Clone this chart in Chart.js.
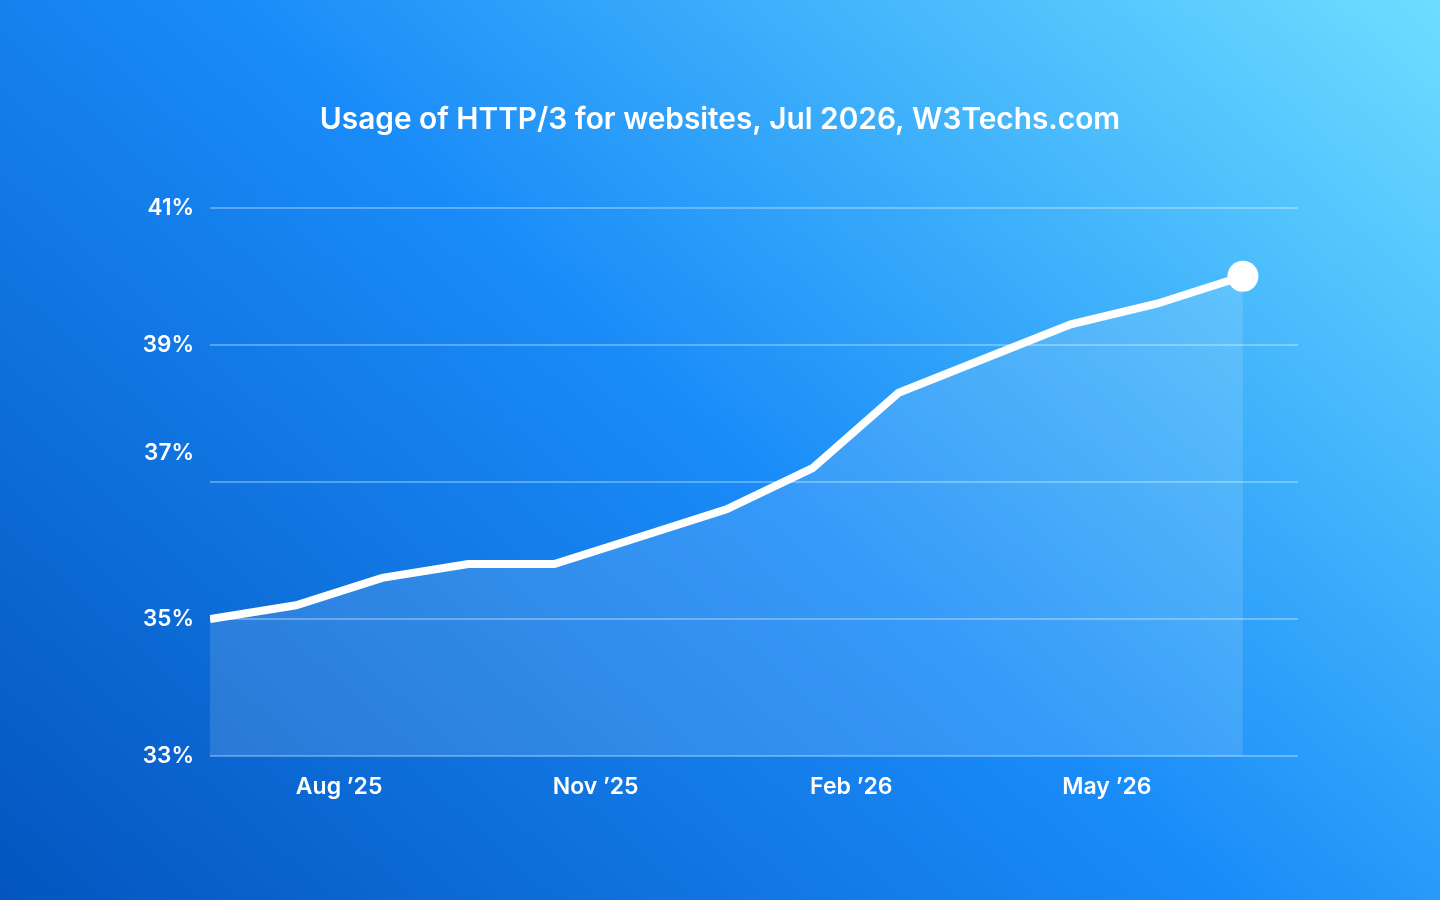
<!DOCTYPE html>
<html>
<head>
<meta charset="utf-8">
<title>Usage of HTTP/3 for websites</title>
<script src="https://cdn.jsdelivr.net/npm/chart.js@4.4.1/dist/chart.umd.min.js"></script>
<style>
  html, body { margin: 0; padding: 0; width: 1440px; height: 900px; overflow: hidden; }
  body { background: linear-gradient(42deg, #0455bf 0%, #198bf8 50%, #6ddeff 100%); }
  #wrap { width: 1440px; height: 900px; }
</style>
</head>
<body>
<div id="wrap"><canvas id="chart" width="1440" height="900"></canvas></div>
<script>
// monthly samples, Jul 2025 .. Jul 2026
const months = [0, 1, 2, 3, 4, 5, 6, 7, 8, 9, 10, 11, 12];
const usage = [35.0, 35.2, 35.6, 35.8, 35.8, 36.2, 36.6, 37.2, 38.3, 38.8, 39.3, 39.6, 40.0];

const xTickAt = [1.5, 4.48, 7.45, 10.42];
const xTickLabels = ['Aug ’25', 'Nov ’25', 'Feb ’26', 'May ’26'];

const yGridAt = [33, 35, 37, 39, 41];
const yLabelAt = [33, 35, 37.42, 39, 41];
const yTickLabels = ['33%', '35%', '37%', '39%', '41%'];

const font = 'Inter';

const ctx = document.getElementById('chart').getContext('2d');
new Chart(ctx, {
  type: 'line',
  data: {
    datasets: [{
      data: months.map((m, i) => ({ x: m, y: usage[i] })),
      borderColor: '#ffffff',
      borderWidth: 8,
      backgroundColor: 'rgba(255, 255, 255, 0.13)',
      fill: 'start',
      tension: 0,
      pointRadius: (c) => (c.dataIndex === usage.length - 1 ? 15.5 : 0),
      pointHoverRadius: 0,
      pointBackgroundColor: '#ffffff',
      pointBorderWidth: 0,
    }],
  },
  options: {
    responsive: false,
    animation: false,
    devicePixelRatio: 1,
    layout: { padding: 0 },
    plugins: {
      legend: { display: false },
      tooltip: { enabled: false },
      title: {
        display: true,
        text: 'Usage of HTTP/3 for websites, Jul 2026, W3Techs.com',
        color: '#ffffff',
        font: { family: font, size: 29.8, weight: '600', lineHeight: 1.2 },
        padding: { top: 102, bottom: 70 },
      },
    },
    scales: {
      x: {
        type: 'linear',
        min: 0,
        max: 12.64,
        grid: { display: false, drawTicks: false },
        border: { display: false },
        afterBuildTicks: (s) => { s.ticks = xTickAt.map((v) => ({ value: v })); },
        afterFit: (s) => { s.height = 144; },
        ticks: {
          callback: (v, i) => xTickLabels[i],
          color: '#ffffff',
          font: { family: font, size: 23, weight: '600' },
          padding: 17,
          maxRotation: 0,
          autoSkip: false,
        },
      },
      y: {
        min: 33,
        max: 41,
        position: 'left',
        afterBuildTicks: (s) => { s.ticks = yGridAt.map((v) => ({ value: v })); },
        afterFit: (s) => { s.width = 0; },
        grid: { color: 'rgba(255, 255, 255, 0.3)', lineWidth: 2, drawTicks: false },
        border: { display: false },
        ticks: { display: false },
      },
      yLabels: {
        min: 33,
        max: 41,
        position: 'left',
        afterBuildTicks: (s) => { s.ticks = yLabelAt.map((v) => ({ value: v })); },
        afterFit: (s) => { s.width = 210; },
        grid: { display: false, drawTicks: false },
        border: { display: false },
        ticks: {
          callback: (v, i) => yTickLabels[i],
          color: '#ffffff',
          font: { family: font, size: 22.5, weight: '600' },
          padding: 16,
          autoSkip: false,
        },
      },
      // empty right gutter so the plot ends at 1298 while the title stays centred
      yRight: {
        position: 'right',
        grid: { display: false, drawTicks: false },
        border: { display: false },
        ticks: { display: false },
        afterFit: (s) => { s.width = 142; },
      },
    },
  },
});
</script>
</body>
</html>
